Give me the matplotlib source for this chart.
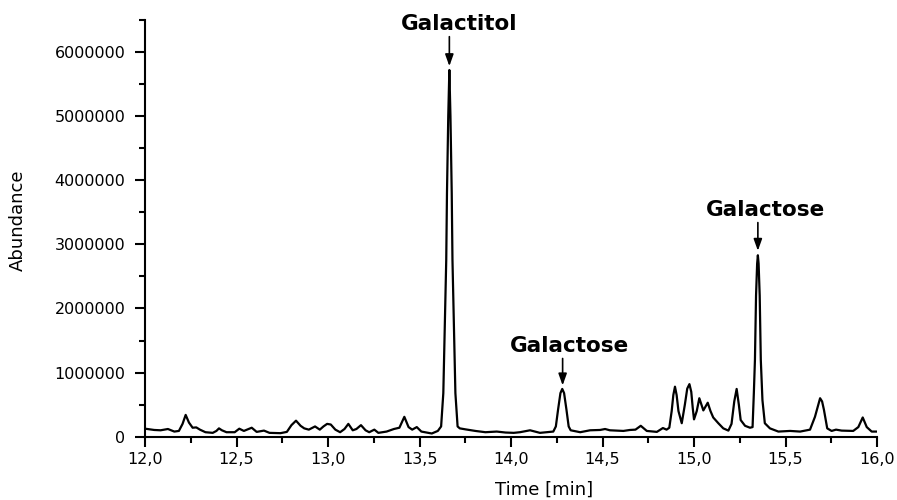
import matplotlib
matplotlib.use("Agg")
import matplotlib.pyplot as plt
from matplotlib.ticker import MultipleLocator, FuncFormatter

# Retention time (min) and abundance
time_min = [
    12.000, 12.050, 12.085, 12.125, 12.160, 12.185, 12.205, 12.222, 12.240, 12.260,
    12.280, 12.300, 12.330, 12.370, 12.390, 12.404, 12.420, 12.445, 12.490, 12.515,
    12.540, 12.583, 12.610, 12.650, 12.680, 12.740, 12.775, 12.800, 12.825, 12.850,
    12.870, 12.895, 12.929, 12.955, 12.975, 12.995, 13.015, 13.040, 13.066, 13.090,
    13.111, 13.135, 13.155, 13.180, 13.205, 13.225, 13.253, 13.275, 13.320, 13.360,
    13.390, 13.417, 13.440, 13.460, 13.485, 13.510, 13.567, 13.600, 13.618, 13.630,
    13.638, 13.646, 13.650, 13.657, 13.663, 13.669, 13.676, 13.680, 13.688, 13.696,
    13.708, 13.720, 13.750, 13.805, 13.860, 13.922, 13.970, 14.015, 14.049, 14.104,
    14.158, 14.231, 14.245, 14.257, 14.270, 14.280, 14.290, 14.303, 14.315, 14.326,
    14.378, 14.432, 14.487, 14.514, 14.540, 14.614, 14.650, 14.680, 14.709, 14.742,
    14.797, 14.830, 14.850, 14.865, 14.878, 14.887, 14.896, 14.905, 14.915, 14.933,
    14.950, 14.963, 14.975, 14.985, 14.993, 15.000, 15.015, 15.029, 15.051, 15.075,
    15.090, 15.105, 15.133, 15.160, 15.188, 15.205, 15.220, 15.233, 15.245, 15.255,
    15.279, 15.306, 15.320, 15.327, 15.333, 15.339, 15.345, 15.349, 15.353, 15.359,
    15.365, 15.374, 15.387, 15.415, 15.461, 15.525, 15.580, 15.634, 15.661, 15.689,
    15.700, 15.710, 15.728, 15.752, 15.776, 15.807, 15.870, 15.898, 15.922, 15.944,
    15.971, 16.000,
]
abundance = [
    125000, 105000, 100000, 120000, 80000, 90000, 200000, 340000, 220000, 140000,
    145000, 110000, 70000, 60000, 90000, 130000, 100000, 70000, 70000, 125000,
    90000, 140000, 75000, 95000, 60000, 55000, 75000, 180000, 250000, 170000,
    130000, 110000, 160000, 110000, 160000, 200000, 190000, 110000, 70000, 120000,
    200000, 100000, 120000, 180000, 100000, 70000, 110000, 60000, 80000, 120000,
    140000, 310000, 150000, 110000, 150000, 80000, 50000, 90000, 160000, 680000,
    1720000, 2760000, 3800000, 5000000, 5720000, 5000000, 3800000, 2760000, 1720000, 680000,
    160000, 130000, 115000, 90000, 70000, 80000, 65000, 60000, 70000, 100000,
    60000, 80000, 160000, 420000, 680000, 745000, 680000, 420000, 160000, 100000,
    70000, 100000, 105000, 120000, 100000, 90000, 105000, 110000, 170000, 90000,
    75000, 135000, 110000, 140000, 400000, 650000, 780000, 650000, 400000, 210000,
    500000, 750000, 820000, 700000, 450000, 270000, 400000, 600000, 410000, 530000,
    400000, 300000, 210000, 130000, 95000, 200000, 550000, 745000, 500000, 260000,
    170000, 140000, 150000, 680000, 1200000, 2200000, 2700000, 2830000, 2700000, 2200000,
    1200000, 570000, 210000, 130000, 80000, 90000, 80000, 110000, 310000, 600000,
    550000, 420000, 130000, 90000, 110000, 95000, 90000, 150000, 300000, 150000,
    80000, 80000,
]

# Peak annotations: label, peak time, arrow tip, arrow tail, text x, text y
ann_labels = ["Galactitol", "Galactose", "Galactose"]
ann_time = [13.663, 14.282, 15.349]
ann_tip = [5.78e6, 0.80e6, 2.90e6]
ann_tail = [6.24e6, 1.22e6, 3.34e6]
ann_text_x = [13.716, 14.317, 15.393]
ann_text_y = [6.43e6, 1.42e6, 3.54e6]

x_ticks = [12.0, 12.5, 13.0, 13.5, 14.0, 14.5, 15.0, 15.5, 16.0]
y_ticks = [0, 1000000, 2000000, 3000000, 4000000, 5000000, 6000000]

plt.rcParams['font.family'] = ['DejaVu Sans']

fig = plt.figure(figsize=(8.97, 5.0), dpi=100)
ax = fig.add_axes([0.1617, 0.1266, 0.816, 0.8334])

ax.plot(time_min, abundance, color='black', lw=1.6)

ax.set_xlim(12.0, 16.0)
ax.set_ylim(0, 6.5e6)
ax.set_xticks(x_ticks)
ax.set_yticks(y_ticks)
ax.xaxis.set_minor_locator(MultipleLocator(0.25))
ax.yaxis.set_minor_locator(MultipleLocator(500000))
ax.xaxis.set_major_formatter(FuncFormatter(lambda v, p: f"{v:.1f}".replace('.', ',')))
ax.yaxis.set_major_formatter(FuncFormatter(lambda v, p: f"{int(round(v))}"))

for s in ['top', 'right']:
    ax.spines[s].set_visible(False)
for s in ['left', 'bottom']:
    ax.spines[s].set_linewidth(1.5)

ax.tick_params(which='major', direction='out', length=7, width=1.5, labelsize=11.5)
ax.tick_params(which='minor', direction='out', length=4, width=1.5)
ax.tick_params(axis='y', which='major', pad=7)
ax.tick_params(axis='x', which='major', pad=4)

ax.text(0.545, -0.128, "Time [min]", transform=ax.transAxes, ha='center', va='center', fontsize=13)
ax.set_ylabel("Abundance", fontsize=13)
ax.yaxis.set_label_coords(-0.162, 0.52)

for lab, t, tip, tail, tx, ty in zip(ann_labels, ann_time, ann_tip, ann_tail, ann_text_x, ann_text_y):
    ax.annotate("", xy=(t, tip), xytext=(t, tail),
                arrowprops=dict(arrowstyle='-|>,head_length=0.7,head_width=0.25', color='black', lw=1.2,
                                shrinkA=0, shrinkB=0))
    ax.text(tx, ty, lab, ha='center', va='center', fontsize=15.5, fontweight='bold')

fig.savefig("out.png", dpi=100)
